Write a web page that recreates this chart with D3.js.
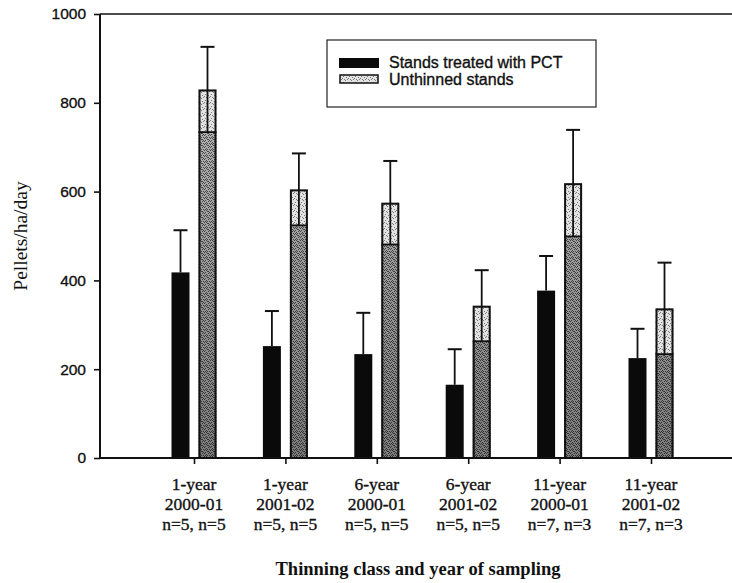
<!DOCTYPE html>
<html>
<head>
<meta charset="utf-8">
<script src="https://d3js.org/d3.v7.min.js"></script>
<style>
  html, body { margin: 0; padding: 0; background: #fff; }
  svg { display: block; }
  .sans { font-family: "Liberation Sans", Arial, sans-serif; }
  .serif { font-family: "Liberation Serif", "Times New Roman", serif; }
  .heavy { stroke: #111; stroke-width: 0.35px; }
</style>
</head>
<body>
<svg id="chart" width="732" height="583"></svg>
<script>
// Thinning class, sampling year and sample sizes for each group of bars
const thinningClass = ["1-year", "1-year", "6-year", "6-year", "11-year", "11-year"];
const samplingYear  = ["2000-01", "2001-02", "2000-01", "2001-02", "2000-01", "2001-02"];
const sampleSizes   = ["n=5, n=5", "n=5, n=5", "n=5, n=5", "n=5, n=5", "n=7, n=3", "n=7, n=3"];

// Mean pellet counts (pellets/ha/day) and standard errors
const pctMeans       = [418, 252, 234, 165, 377, 225];
const pctSE          = [95, 79, 93, 80, 78, 66];
const unthinnedMeans = [830, 605, 575, 343, 619, 337];
const unthinnedSE    = [96, 81, 94, 80, 120, 103];

const seriesNames = ["Stands treated with PCT", "Unthinned stands"];
const yTicks = [0, 200, 400, 600, 800, 1000];

const svg = d3.select("#chart");
const W = 732, H = 583;

// Scales: group positions along x, pellet density along y
const x = d3.scaleLinear().domain([0, 7]).range([102.6, 742.4]);
const y = d3.scaleLinear().domain([0, 1000]).range([458, 14]);
const xSub = d3.scaleBand().domain(["pct", "unthinned"]).range([-22.5, 22.5]).paddingInner(1 / 3);
const bw = xSub.bandwidth();
const axisX0 = 100;

// Stippled fills for the unthinned bars
const defs = svg.append("defs");
function stipple(id, bg, dots, color) {
  const p = defs.append("pattern").attr("id", id)
    .attr("patternUnits", "userSpaceOnUse").attr("width", 6).attr("height", 6);
  p.append("rect").attr("width", 6).attr("height", 6).attr("fill", bg);
  dots.forEach(([dx, dy]) => p.append("rect").attr("x", dx).attr("y", dy)
    .attr("width", 1).attr("height", 1).attr("fill", color));
}
stipple("stippleDense", "#b4b4b4",
  [[0,0],[3,1],[1,2],[4,3],[2,4],[5,5],[0,3],[3,5],[5,2],[1,5],[2,0],[4,1]], "#4a4a4a");
stipple("stippleLight", "#e2e2e2",
  [[0,0],[3,2],[1,4],[5,1],[4,5],[2,1]], "#7a7a7a");
const grad = defs.append("linearGradient").attr("id", "shade")
  .attr("gradientUnits", "userSpaceOnUse")
  .attr("x1", 0).attr("x2", 0).attr("y1", y(800)).attr("y2", y(0));
grad.append("stop").attr("offset", 0).attr("stop-color", "#000").attr("stop-opacity", 0);
grad.append("stop").attr("offset", 1).attr("stop-color", "#000").attr("stop-opacity", 0.32);

// Top frame line and axes
svg.append("line").attr("x1", axisX0).attr("x2", W).attr("y1", y(1000)).attr("y2", y(1000))
  .attr("stroke", "#111").attr("stroke-width", 1.4);
svg.append("line").attr("x1", axisX0).attr("x2", axisX0).attr("y1", y(1000)).attr("y2", y(0))
  .attr("stroke", "#111").attr("stroke-width", 2);

const yAxis = svg.append("g").attr("transform", `translate(${axisX0},0)`)
  .call(d3.axisLeft(y).tickValues(yTicks).tickSize(6).tickPadding(8).tickFormat(d3.format("d")));
yAxis.select(".domain").remove();
yAxis.selectAll(".tick line").attr("stroke", "#111").attr("stroke-width", 1.6);
yAxis.selectAll(".tick text").attr("class", "sans heavy").attr("font-size", 15.5)
  .attr("fill", "#111").attr("font-family", "Liberation Sans, Arial, sans-serif");

const groups = d3.range(pctMeans.length);

// Treated-stand bars (solid black) with upper error bars
const pct = svg.append("g");
groups.forEach(i => {
  const cx = x(i + 1);
  const x0 = cx + xSub("pct");
  pct.append("line").attr("x1", x0 + bw / 2).attr("x2", x0 + bw / 2)
    .attr("y1", y(pctMeans[i])).attr("y2", y(pctMeans[i] + pctSE[i]))
    .attr("stroke", "#111").attr("stroke-width", 1.8);
  pct.append("line").attr("x1", x0 + bw / 2 - 7).attr("x2", x0 + bw / 2 + 7)
    .attr("y1", y(pctMeans[i] + pctSE[i])).attr("y2", y(pctMeans[i] + pctSE[i]))
    .attr("stroke", "#111").attr("stroke-width", 2);
  pct.append("rect").attr("x", x0).attr("width", bw)
    .attr("y", y(pctMeans[i])).attr("height", y(0) - y(pctMeans[i]))
    .attr("fill", "#0a0a0a");
});

// Unthinned-stand bars (stippled) with error bars drawn both ways
const un = svg.append("g");
groups.forEach(i => {
  const cx = x(i + 1);
  const x0 = cx + xSub("unthinned");
  const m = unthinnedMeans[i], se = unthinnedSE[i];
  const mid = x0 + bw / 2;
  un.append("rect").attr("x", x0).attr("width", bw)
    .attr("y", y(m - se)).attr("height", y(0) - y(m - se))
    .attr("fill", "url(#stippleDense)");
  un.append("rect").attr("x", x0).attr("width", bw)
    .attr("y", y(m - se)).attr("height", y(0) - y(m - se))
    .attr("fill", "url(#shade)");
  un.append("rect").attr("x", x0).attr("width", bw)
    .attr("y", y(m)).attr("height", y(m - se) - y(m))
    .attr("fill", "url(#stippleLight)");
  // lower cap sits inside the bar
  un.append("line").attr("x1", x0).attr("x2", x0 + bw)
    .attr("y1", y(m - se)).attr("y2", y(m - se))
    .attr("stroke", "#111").attr("stroke-width", 1.8);
  un.append("line").attr("x1", mid).attr("x2", mid)
    .attr("y1", y(m - se)).attr("y2", y(m + se))
    .attr("stroke", "#111").attr("stroke-width", 1.8);
  un.append("line").attr("x1", mid - 7).attr("x2", mid + 7)
    .attr("y1", y(m + se)).attr("y2", y(m + se))
    .attr("stroke", "#111").attr("stroke-width", 2);
  un.append("rect").attr("x", x0 + 1).attr("width", bw - 2)
    .attr("y", y(m) + 1).attr("height", y(0) - y(m) - 1)
    .attr("fill", "none").attr("stroke", "#111").attr("stroke-width", 2);
});

// Baseline and x ticks
svg.append("line").attr("x1", axisX0).attr("x2", W).attr("y1", y(0)).attr("y2", y(0))
  .attr("stroke", "#111").attr("stroke-width", 1.8);
const xAxis = svg.append("g").attr("transform", `translate(0,${y(0)})`)
  .call(d3.axisBottom(x).tickValues(groups.map(i => i + 1)).tickSize(6).tickFormat(""));
xAxis.select(".domain").remove();
xAxis.selectAll(".tick line").attr("stroke", "#111").attr("stroke-width", 1.6);

// Three-line category labels
const labels = svg.append("g").attr("class", "serif heavy").attr("font-size", 17.5)
  .attr("fill", "#111").attr("text-anchor", "middle");
groups.forEach(i => {
  const t = labels.append("text").attr("x", x(i + 1)).attr("y", 490);
  [thinningClass[i], samplingYear[i], sampleSizes[i]].forEach((s, k) => {
    t.append("tspan").attr("x", x(i + 1)).attr("dy", k === 0 ? 0 : 20).text(s);
  });
});

// Axis titles
svg.append("text").attr("class", "serif").attr("font-size", 18.5).attr("font-weight", "bold")
  .attr("text-anchor", "middle").attr("x", 418).attr("y", 575).attr("fill", "#111")
  .text("Thinning class and year of sampling");
svg.append("text").attr("class", "serif").attr("font-size", 19.5)
  .attr("text-anchor", "middle").attr("fill", "#111")
  .attr("transform", "translate(27,236) rotate(-90)")
  .text("Pellets/ha/day");

// Legend
const lg = svg.append("g");
lg.append("rect").attr("x", 327).attr("y", 40).attr("width", 269).attr("height", 67)
  .attr("fill", "#fff").attr("stroke", "#222").attr("stroke-width", 1.2);
lg.append("rect").attr("x", 339).attr("y", 58).attr("width", 40).attr("height", 10).attr("fill", "#0a0a0a");
lg.append("rect").attr("x", 340).attr("y", 75).attr("width", 38).attr("height", 8)
  .attr("fill", "url(#stippleLight)").attr("stroke", "#111").attr("stroke-width", 1.5);
lg.selectAll("text.item").data(seriesNames).join("text")
  .attr("class", "sans heavy item").attr("font-size", 16).attr("fill", "#111")
  .attr("x", 389).attr("y", (d, k) => 68 + k * 16.5).text(d => d);
</script>
</body>
</html>
